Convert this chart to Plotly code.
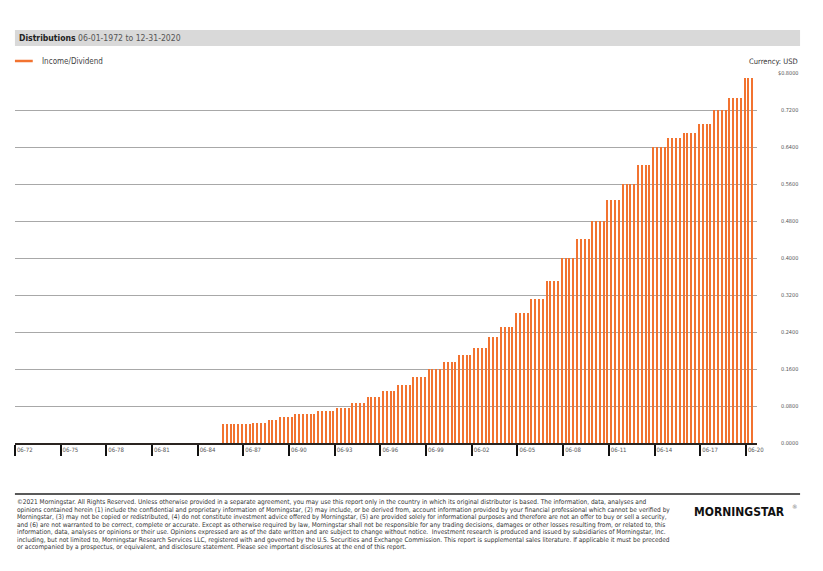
import pandas as pd
import plotly.graph_objects as go

# quarterly income/dividend payments, Feb-1986 .. Nov-2020
pay_dates = pd.date_range("1986-02-01", periods=140, freq="3MS")
dividends = [
    0.0405, 0.0405, 0.0405, 0.0405, 0.0405, 0.0405, 0.0405, 0.0405,
    0.043, 0.043, 0.043, 0.043,
    0.050, 0.050, 0.050,
    0.056, 0.056, 0.056, 0.056,
    0.062, 0.062, 0.062, 0.062, 0.062, 0.062,
    0.0685, 0.0685, 0.0685, 0.0685, 0.0685,
    0.076, 0.076, 0.076, 0.076,
    0.0865, 0.0865, 0.0865, 0.0865,
    0.099, 0.099, 0.099, 0.099,
    0.112, 0.112, 0.112, 0.112,
    0.1254, 0.1254, 0.1254, 0.1254,
    0.142, 0.142, 0.142, 0.142,
    0.160, 0.160, 0.160, 0.160,
    0.175, 0.175, 0.175, 0.175,
    0.190, 0.190, 0.190, 0.190,
    0.205, 0.205, 0.205, 0.205,
    0.228, 0.228, 0.228,
    0.250, 0.250, 0.250, 0.250,
    0.280, 0.280, 0.280, 0.280,
    0.310, 0.310, 0.310, 0.310,
    0.350, 0.350, 0.350, 0.350,
    0.400, 0.400, 0.400, 0.400,
    0.440, 0.440, 0.440, 0.440,
    0.480, 0.480, 0.480, 0.480,
    0.525, 0.525, 0.525, 0.525,
    0.560, 0.560, 0.560, 0.560,
    0.600, 0.600, 0.600, 0.600,
    0.640, 0.640, 0.640, 0.640,
    0.660, 0.660, 0.660, 0.660,
    0.670, 0.670, 0.670, 0.670,
    0.690, 0.690, 0.690, 0.690,
    0.720, 0.720, 0.720, 0.720,
    0.745, 0.745, 0.745, 0.745,
    0.790, 0.790, 0.790,
]

x_tickvals = ["%d-06-01" % y for y in range(1972, 2021, 3)]
x_ticktext = ["06-%02d" % (y % 100) for y in range(1972, 2021, 3)]
y_tickvals = [0.0, 0.08, 0.16, 0.24, 0.32, 0.40, 0.48, 0.56, 0.64, 0.72, 0.80]
y_ticktext = ["0.0000", "0.0800", "0.1600", "0.2400", "0.3200", "0.4000",
              "0.4800", "0.5600", "0.6400", "0.7200", "$0.8000"]

disclaimer = [
    "©2021 Morningstar. All Rights Reserved. Unless otherwise provided in a separate agreement, you may use this report only in the country in which its original distributor is based. The information, data, analyses and",
    "opinions contained herein (1) include the confidential and proprietary information of Morningstar, (2) may include, or be derived from, account information provided by your financial professional which cannot be verified by",
    "Morningstar, (3) may not be copied or redistributed, (4) do not constitute investment advice offered by Morningstar, (5) are provided solely for informational purposes and therefore are not an offer to buy or sell a security,",
    "and (6) are not warranted to be correct, complete or accurate. Except as otherwise required by law, Morningstar shall not be responsible for any trading decisions, damages or other losses resulting from, or related to, this",
    "information, data, analyses or opinions or their use. Opinions expressed are as of the date written and are subject to change without notice.  Investment research is produced and issued by subsidiaries of Morningstar, Inc.",
    "including, but not limited to, Morningstar Research Services LLC, registered with and governed by the U.S. Securities and Exchange Commission. This report is supplemental sales literature. If applicable it must be preceded",
    "or accompanied by a prospectus, or equivalent, and disclosure statement. Please see important disclosures at the end of this report.",
]

# page body has an 8px margin, so the figure is a bit smaller than the window
OFF = 8
W, H = 823 - 2 * OFF, 571 - 2 * OFF
ORANGE = "#f27330"
FONT = "DejaVu Sans Condensed, Liberation Sans Narrow, Roboto, sans-serif"


def px(x):
    return (x - OFF) / W


def py(y):
    return 1 - (y - OFF) / H


fig = go.Figure()
fig.add_trace(go.Bar(x=pay_dates, y=dividends, width=2.6e9,
                     marker=dict(color=ORANGE, line=dict(width=0)),
                     showlegend=False))

fig.update_layout(
    width=W, height=H,
    margin=dict(l=0, r=0, t=0, b=0),
    paper_bgcolor="white", plot_bgcolor="white",
    font=dict(family=FONT, color="#444"),
    xaxis=dict(domain=[px(15), px(764)], type="date",
               range=["1972-06-01", "2021-02-10"],
               tickvals=x_tickvals, ticktext=x_ticktext,
               ticks="outside", ticklen=11, tickwidth=2, tickcolor="#111",
               ticklabelposition="outside right", ticklabelstandoff=0,
               tickfont=dict(size=6, color="#555"),
               showline=True, linecolor="#2a2420", linewidth=2,
               showgrid=False, zeroline=False),
    yaxis=dict(domain=[py(443), py(73.3)], range=[0, 0.8],
               tickvals=y_tickvals, showticklabels=False,
               showgrid=True, gridcolor="#a8a8a8", gridwidth=1.4,
               zeroline=False, showline=False),
    bargap=0,
)

shapes = [
    # header band
    dict(type="rect", xref="paper", yref="paper", x0=px(15), x1=px(808),
         y0=py(46), y1=py(30), fillcolor="#d9d9d9", line=dict(width=0), layer="below"),
    # legend key
    dict(type="line", xref="paper", yref="paper", x0=px(15), x1=px(33),
         y0=py(61), y1=py(61), line=dict(color=ORANGE, width=2.5)),
    # footer rule
    dict(type="line", xref="paper", yref="paper", x0=px(15), x1=px(808),
         y0=py(494), y1=py(494), line=dict(color="#222", width=1.5)),
]

ann = [
    dict(text="<b>Distributions</b> <span style='color:#555'>06-01-1972 to 12-31-2020</span>",
         x=px(17), y=py(38), xanchor="left", yanchor="middle",
         font=dict(size=8.6, color="#222")),
    dict(text="Income/Dividend", x=px(40), y=py(61), xanchor="left", yanchor="middle",
         font=dict(size=8, color="#444")),
    dict(text="Currency: USD", x=px(808), y=py(61), xanchor="right", yanchor="middle",
         font=dict(size=7.5, color="#333")),
    dict(text="<b>MORNINGSTAR</b>", x=px(795), y=py(512), xanchor="right",
         yanchor="middle", font=dict(size=12, color="#111")),
    dict(text="®", x=px(798), y=py(506), xanchor="left",
         yanchor="middle", font=dict(size=6, color="#777")),
]
for v, t in zip(y_tickvals, y_ticktext):
    ann.append(dict(text=t, x=px(808), y=v, xref="paper", yref="y",
                    xanchor="right", yanchor="middle",
                    font=dict(size=5.5, color="#555")))
for i, line in enumerate(disclaimer):
    ann.append(dict(text=line, x=px(15), y=py(502 + 7.5 * i), xanchor="left",
                    yanchor="middle", font=dict(size=6.5, color="#333")))

for a in ann:
    a.setdefault("xref", "paper")
    a.setdefault("yref", "paper")
    a["showarrow"] = False

fig.update_layout(shapes=shapes, annotations=ann)
fig.write_html("out.html")
